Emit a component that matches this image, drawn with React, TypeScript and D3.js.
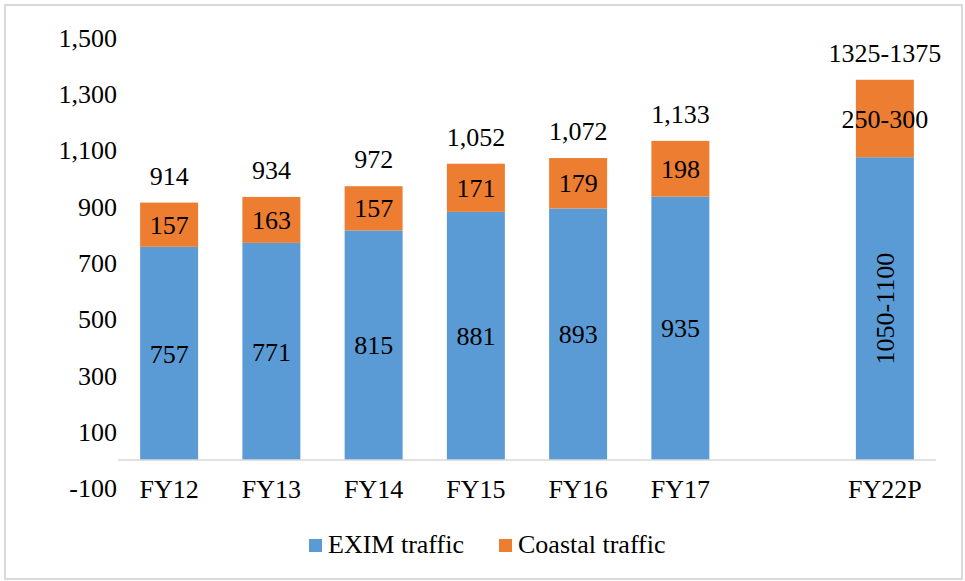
import React from 'react';
import * as d3 from 'd3';

// categories (a blank slot sits between FY17 and FY22P)
const categories = ['FY12', 'FY13', 'FY14', 'FY15', 'FY16', 'FY17', '', 'FY22P'];
const eximValues = [757, 771, 815, 881, 893, 935, null, 1075];
const coastalValues = [157, 163, 157, 171, 179, 198, null, 275];
const eximLabels = ['757', '771', '815', '881', '893', '935', '', '1050-1100'];
const coastalLabels = ['157', '163', '157', '171', '179', '198', '', '250-300'];
const totalLabels = ['914', '934', '972', '1,052', '1,072', '1,133', '', '1325-1375'];
const yTicks = [-100, 100, 300, 500, 700, 900, 1100, 1300, 1500];
const seriesNames = ['EXIM traffic', 'Coastal traffic'];

const BLUE = '#5B9BD5';
const ORANGE = '#ED7D31';
const FONT = 'Liberation Serif';
const FS = 26;

const x = d3.scaleBand()
  .domain(categories.map((c, i) => String(i)))
  .range([118, 936])
  .paddingInner(0.433)
  .paddingOuter(0.2165);

const y = d3.scaleLinear()
  .domain([-100, 1500])
  .range([488.2, 37.5]);

const fmt = d3.format(',');

const rows = categories.map((c, i) => ({
  key: String(i),
  cat: c,
  exim: eximValues[i],
  coastal: coastalValues[i],
  eLab: eximLabels[i],
  cLab: coastalLabels[i],
  tLab: totalLabels[i],
})).filter(d => d.exim != null);

const legendX = [309, 499];

const App = () => {
  const bw = x.bandwidth();
  return (
    <svg width="965" height="581" style={{ position: 'absolute', left: 0, top: 0 }}
      fontFamily={FONT} fontSize={FS}>
      <style>{`svg text { font-family: 'Liberation Serif', 'Times New Roman', serif !important; }`}</style>
      {/* outer frame */}
      <rect x={5} y={5} width={957} height={574} fill="#fff" stroke="#d9d9d9" strokeWidth={2} />

      {/* y tick labels */}
      {yTicks.map(t => (
        <text key={t} x={117} y={y(t)} dy="0.35em" textAnchor="end">
          {fmt(t).replace('\u2212', '-')}
        </text>
      ))}

      {/* stacked bars */}
      {rows.map(d => (
        <g key={d.key}>
          <rect x={x(d.key)} width={bw} y={y(d.exim)} height={y(0) - y(d.exim)} fill={BLUE} />
          <rect x={x(d.key)} width={bw} y={y(d.exim + d.coastal)}
            height={y(d.exim) - y(d.exim + d.coastal)} fill={ORANGE} />
        </g>
      ))}

      {/* x axis line */}
      <line x1={118} x2={936} y1={y(0)} y2={y(0)} stroke="#d9d9d9" strokeWidth={1.5} />

      {/* data labels; the long EXIM label is rotated */}
      {rows.map(d => {
        const cx = x(d.key) + bw / 2;
        const cy = (y(0) + y(d.exim)) / 2;
        const rotated = d.eLab.length > 4;
        return (
          <g key={'l' + d.key} textAnchor="middle">
            <text transform={`translate(${cx},${cy})${rotated ? ' rotate(-90)' : ''}`} dy="0.35em">{d.eLab}</text>
            <text x={cx} y={(y(d.exim) + y(d.exim + d.coastal)) / 2} dy="0.35em">{d.cLab}</text>
            <text x={cx} y={y(d.exim + d.coastal) - 18}>{d.tLab}</text>
          </g>
        );
      })}

      {/* category labels */}
      {rows.map(d => (
        <text key={'c' + d.key} x={x(d.key) + bw / 2} y={489} dy="0.35em" textAnchor="middle">{d.cat}</text>
      ))}

      {/* legend */}
      {seriesNames.map((name, i) => (
        <g key={name}>
          <rect x={legendX[i]} y={539} width={13} height={13} fill={i === 0 ? BLUE : ORANGE} />
          <text x={legendX[i] + 19} y={553}>{name}</text>
        </g>
      ))}
    </svg>
  );
};

export default App;
